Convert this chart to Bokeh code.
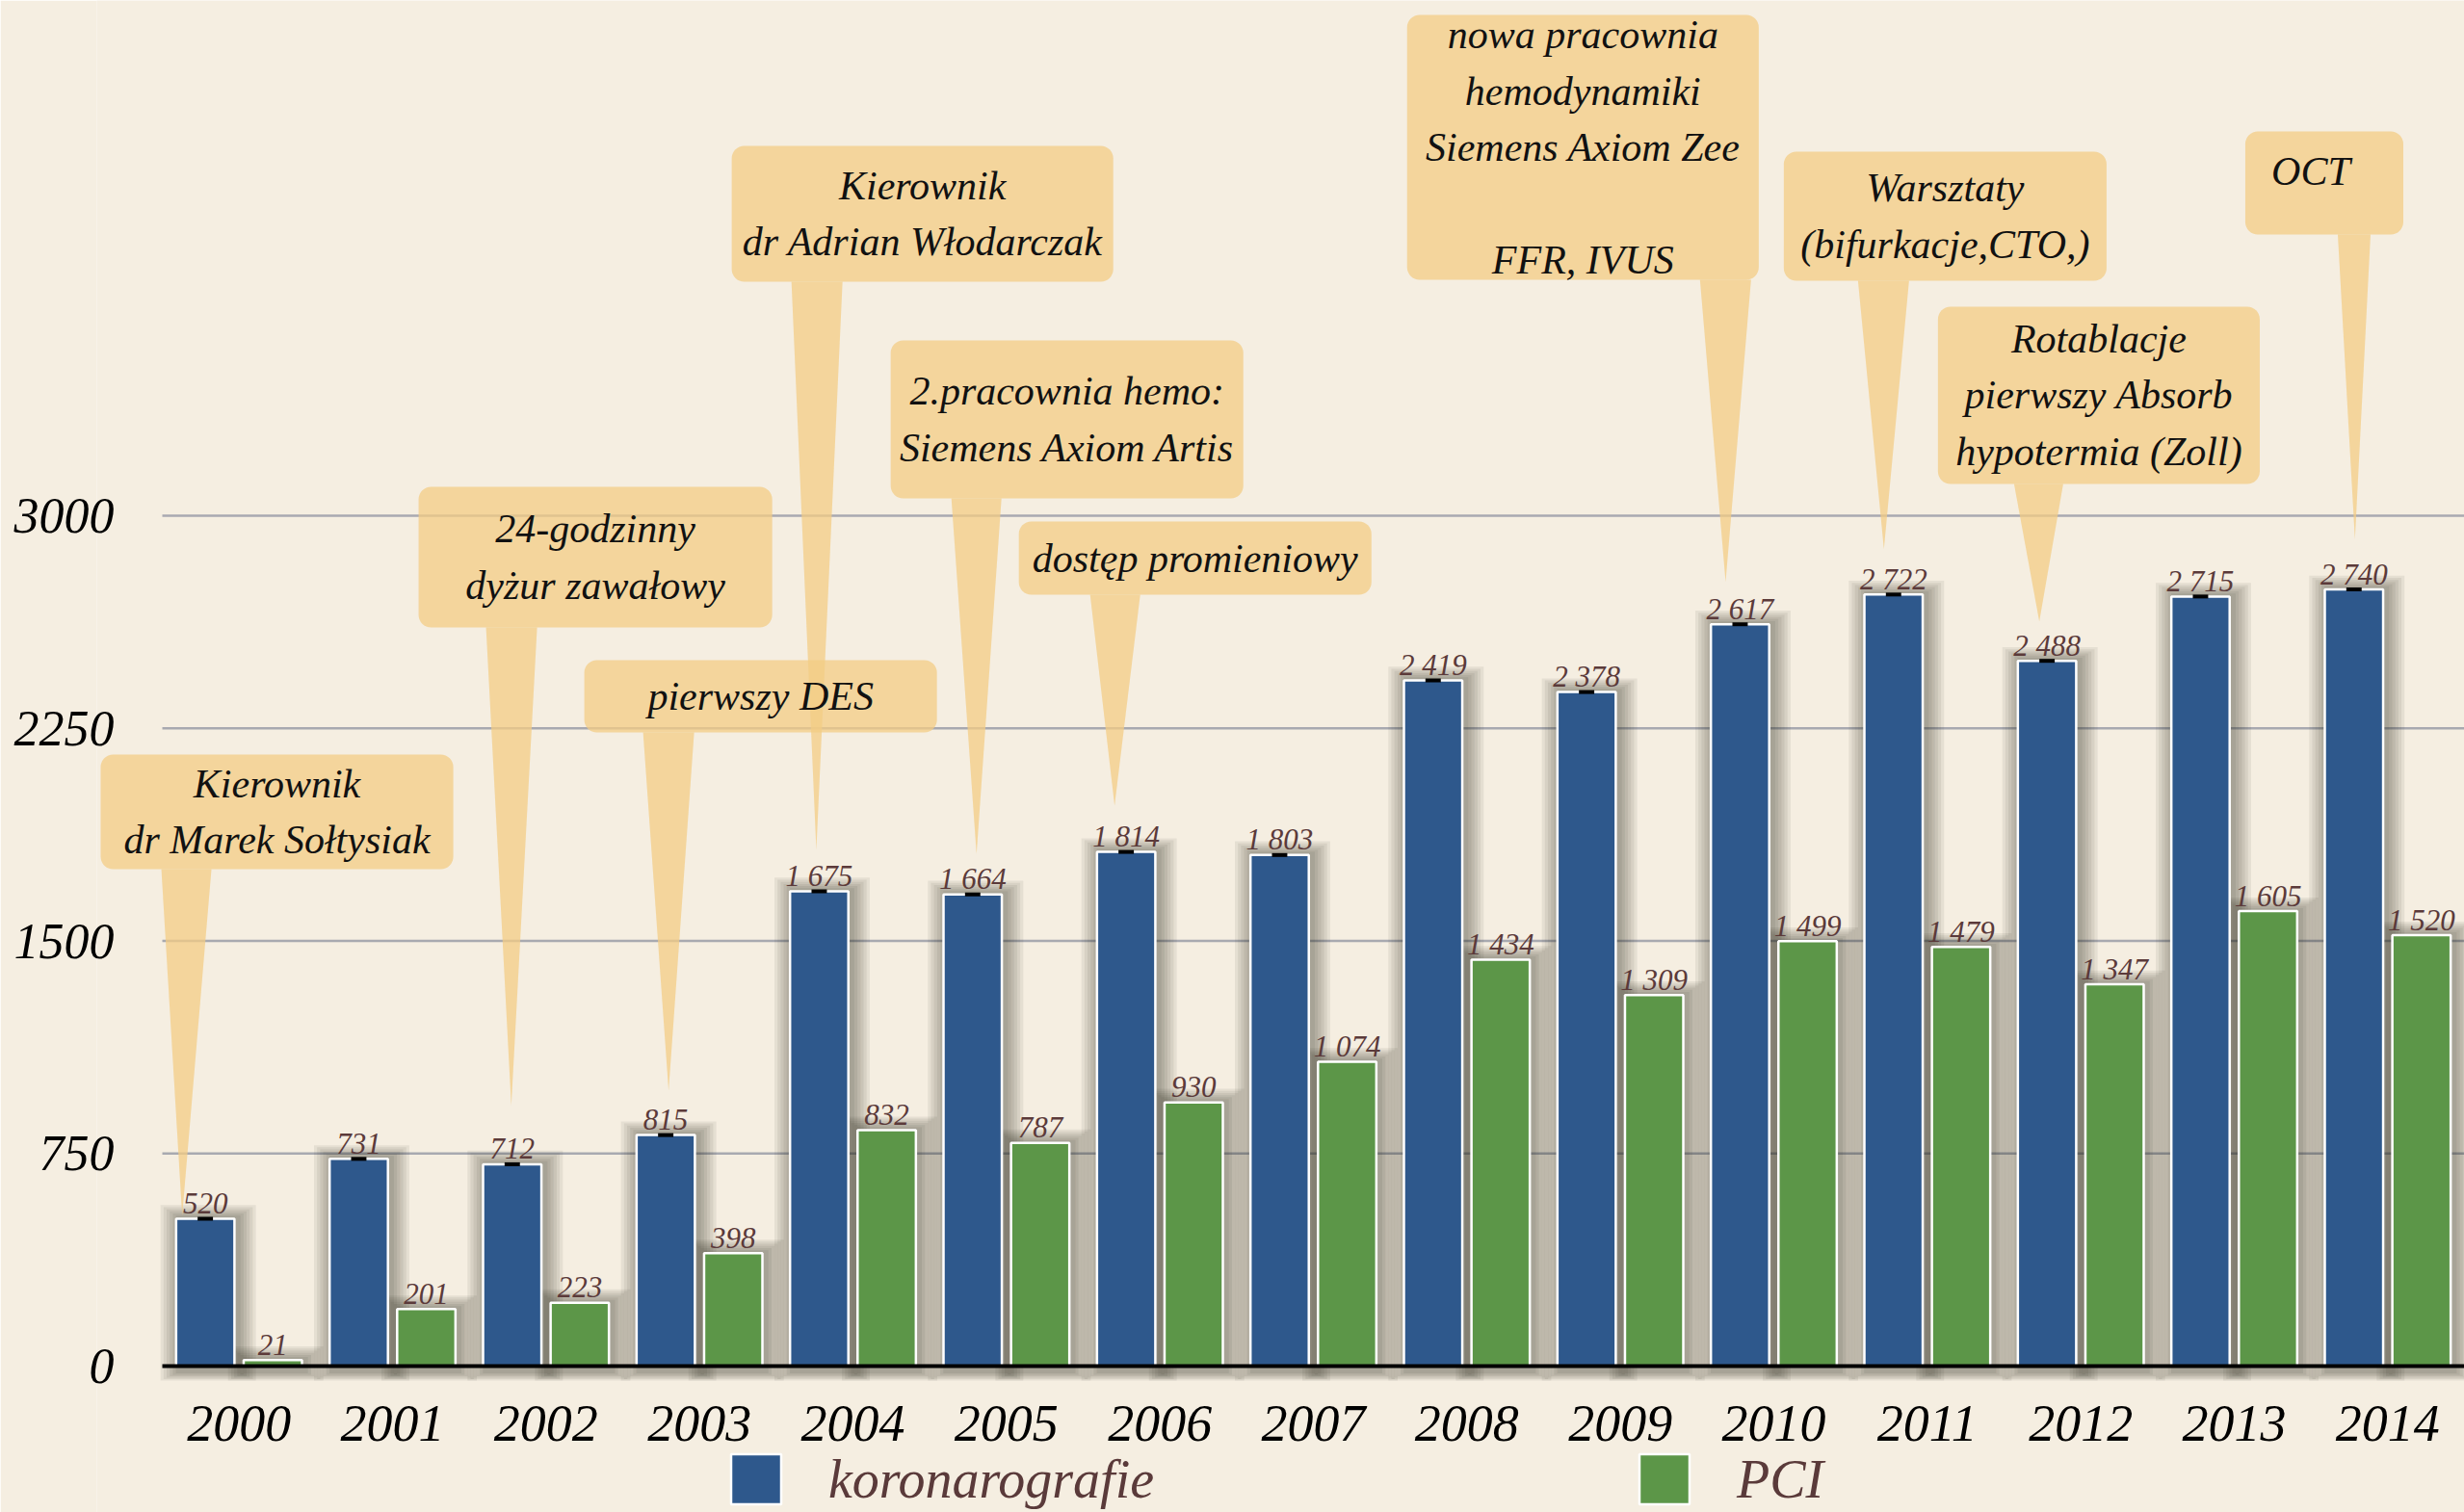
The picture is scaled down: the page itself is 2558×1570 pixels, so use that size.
from bokeh.plotting import figure
from bokeh.models import Range1d, FixedTicker, Legend, LegendItem, ColumnDataSource
from bokeh.transform import dodge
from bokeh.core.properties import value
from bokeh.embed import file_html
from bokeh.resources import INLINE

# ---------------- data ----------------
years = [str(y) for y in range(2000, 2015)]
koronarografie = [520, 731, 712, 815, 1675, 1664, 1814, 1803, 2419, 2378, 2617, 2722, 2488, 2715, 2740]
pci = [21, 201, 223, 398, 832, 787, 930, 1074, 1434, 1309, 1499, 1479, 1347, 1605, 1520]
y_ticks = [0, 750, 1500, 2250, 3000]
series_names = ["koronarografie", "PCI"]

callout_texts = [
    "Kierownik\ndr Marek Sołtysiak",
    "24-godzinny\ndyżur zawałowy",
    "pierwszy DES",
    "Kierownik\ndr Adrian Włodarczak",
    "2.pracownia hemo:\nSiemens Axiom Artis",
    "dostęp promieniowy",
    "nowa pracownia\nhemodynamiki\nSiemens Axiom Zee\n\nFFR, IVUS",
    "Warsztaty\n(bifurkacje,CTO,)",
    "Rotablacje\npierwszy Absorb\nhypotermia (Zoll)",
    "OCT",
]
callout_years = ["2000", "2002", "2003", "2004", "2005", "2006", "2010", "2011", "2012", "2014"]

# ---------------- layout (reference pixel geometry of the callouts) ----------------
callout_boxes = [(104, 470, 783, 902), (434, 801, 505, 651), (606, 972, 685, 760), (759, 1155, 151, 292),
                 (924, 1290, 353, 517), (1057, 1423, 541, 617), (1460, 1825, 15, 290), (1851, 2186, 157, 291),
                 (2011, 2345, 318, 502), (2330, 2494, 136, 243)]
callout_bases = [(167, 219), (504, 557), (667, 720), (821, 874), (987, 1039), (1131, 1183), (1764, 1817),
                 (1928, 1981), (2090, 2141), (2426, 2460)]
callout_tips = [(-24, 3), (-1, 61), (3, 46), (-3, 43), (4, 42), (-12, 48), (-15, 44), (-10, 47), (-8, 41), (1, 52)]
callout_text_dx = [0, 0, 0, 0, 0, 0, 0, 0, 0, -14]
callout_text_dy = [0, 0, 0, 0, 0, 0, 0, 0, 0, -12]

W, H = 2558, 1570
REF_X0, REF_CAT, REF_Y0, REF_PPU = 168.0, 159.3, 1418.0, 883.0 / 3000.0
LEFT = 100
X_START = (LEFT - REF_X0) / REF_CAT
FRAME_W = W - LEFT
FRAME_H = H

def rx(px):
    return (px - REF_X0) / REF_CAT

def ry(py):
    return (REF_Y0 - py) / REF_PPU

Y_TOP = ry(0)
Y_BOT = ry(H)

FONT = "Liberation Serif"
BG = "#f5eee1"
BLUE = "#2e588c"
GREEN = "#5c9648"
BOX = "#f3cc84"
OFF = 0.22
BAR_W = 0.38

n = len(years)
xc = [i + 0.5 for i in range(n)]

p = figure(x_range=Range1d(X_START, n), y_range=Range1d(Y_BOT, Y_TOP),
           frame_width=FRAME_W, frame_height=FRAME_H, output_backend="svg", toolbar_location=None,
           min_border_left=LEFT, min_border_right=0, min_border_top=0, min_border_bottom=0)
p.background_fill_color = BG
p.border_fill_color = BG
p.outline_line_color = None
p.xgrid.grid_line_color = None
p.ygrid.grid_line_color = None

# horizontal grid lines (start at the first category, like the reference)
grid_y = y_ticks[1:]
p.segment(x0=[0] * len(grid_y), x1=[n] * len(grid_y), y0=grid_y, y1=grid_y,
          line_color="#a8a9b0", line_width=2.5)

src = ColumnDataSource(dict(
    x=xc, year=years, kor=koronarografie, pci=pci,
    kor_lbl=[f"{v:,}".replace(",", " ") for v in koronarografie],
    pci_lbl=[f"{v:,}".replace(",", " ") for v in pci],
))

# soft shadows behind bars
sh_bot = -6 / REF_PPU
for k in range(1, 7):
    g = k * 3.2
    ssrc = ColumnDataSource(dict(
        x=xc,
        kor=[v + (1 + k * 2.2) / REF_PPU for v in koronarografie],
        pci=[v + (1 + k * 2.2) / REF_PPU for v in pci]))
    for col, off in (("kor", -OFF), ("pci", OFF)):
        p.vbar(x=dodge("x", off + 3 / REF_CAT), top=col, bottom=sh_bot - k * 1.5 / REF_PPU, source=ssrc,
               width=BAR_W + 2 * g / REF_CAT, fill_color="#2b2418", fill_alpha=0.075, line_color=None)

blue = p.vbar(x=dodge("x", -OFF), top="kor", bottom=0, width=BAR_W, source=src,
              fill_color=BLUE, line_color="white", line_width=2.5)
green = p.vbar(x=dodge("x", OFF), top="pci", bottom=0, width=BAR_W, source=src,
               fill_color=GREEN, line_color="white", line_width=2.5)

# baseline
p.segment(x0=[0], x1=[n], y0=[y_ticks[0]], y1=[y_ticks[0]], line_color="black", line_width=4)

# small black caps on blue bars
p.rect(x=dodge("x", -OFF), y="kor", width=0.1, height=4, height_units="screen",
       source=src, fill_color="black", line_color=None)

# value labels
for col, lbl, off in (("kor", "kor_lbl", -OFF), ("pci", "pci_lbl", OFF)):
    p.text(x=dodge("x", off), y=col, text=lbl, source=src, y_offset=-16,
           text_align="center", text_baseline="alphabetic", text_font=value(FONT),
           text_font_style="italic", text_font_size="31px", text_color="#5b3a3a")

# callouts
yi = {y: i for i, y in enumerate(years)}
kv = dict(zip(years, koronarografie))
bl, br, bt, bb, cx, cy, px_, py_ = [], [], [], [], [], [], [], []
for (l, r, t, b), (b0, b1), (dx, dy), yr, tdx, tdy in zip(callout_boxes, callout_bases, callout_tips,
                                                          callout_years, callout_text_dx, callout_text_dy):
    bl.append(rx(l)); br.append(rx(r)); bt.append(ry(t)); bb.append(ry(b))
    cx.append(rx((l + r) / 2 + tdx)); cy.append(ry((t + b) / 2 + tdy))
    tipx = yi[yr] + 0.5 - OFF + dx / REF_CAT
    tipy = kv[yr] + dy / REF_PPU
    px_.append([rx(b0), rx(b1), tipx])
    py_.append([ry(b), ry(b), tipy])

p.patches(xs=px_, ys=py_, fill_color=BOX, fill_alpha=0.75, line_color=None)
p.quad(left=bl, right=br, top=bt, bottom=bb, border_radius=13, fill_color=BOX, fill_alpha=0.75, line_color=None)
p.text(x=cx, y=cy, text=callout_texts, text_align="center", text_baseline="middle",
       text_font=value(FONT), text_font_style="italic", text_font_size="42px", text_color="#111111",
       text_line_height=1.27)

# axes
p.yaxis.ticker = FixedTicker(ticks=y_ticks)
p.yaxis.axis_line_color = None
p.yaxis.major_tick_line_color = None
p.yaxis.minor_tick_line_color = None
p.yaxis.major_label_standoff = -24
p.yaxis.major_label_text_font = FONT
p.yaxis.major_label_text_font_style = "italic"
p.yaxis.major_label_text_font_size = "52px"
p.yaxis.major_label_text_color = "black"

p.xaxis.fixed_location = y_ticks[0]
p.xaxis.ticker = FixedTicker(ticks=xc)
p.xaxis.major_label_overrides = {x: y for x, y in zip(xc, years)}
p.xaxis.axis_line_color = None
p.xaxis.major_tick_line_color = None
p.xaxis.minor_tick_line_color = None
p.xaxis.major_label_standoff = 35
p.xaxis.major_label_text_font = FONT
p.xaxis.major_label_text_font_style = "italic"
p.xaxis.major_label_text_font_size = "54px"
p.xaxis.major_label_text_color = "black"

legend = Legend(items=[LegendItem(label=series_names[0], renderers=[blue]),
                       LegendItem(label=series_names[1], renderers=[green])],
                orientation="horizontal", location=(652, 2), glyph_width=65, glyph_height=65,
                label_standoff=43, label_width=835, spacing=0, padding=0, margin=0,
                border_line_color=None, background_fill_alpha=0,
                label_text_font=FONT, label_text_font_style="italic", label_text_font_size="56px",
                label_text_color="#5a3a3a")
p.add_layout(legend, "center")

open("out.html", "w").write(file_html(p, INLINE))
